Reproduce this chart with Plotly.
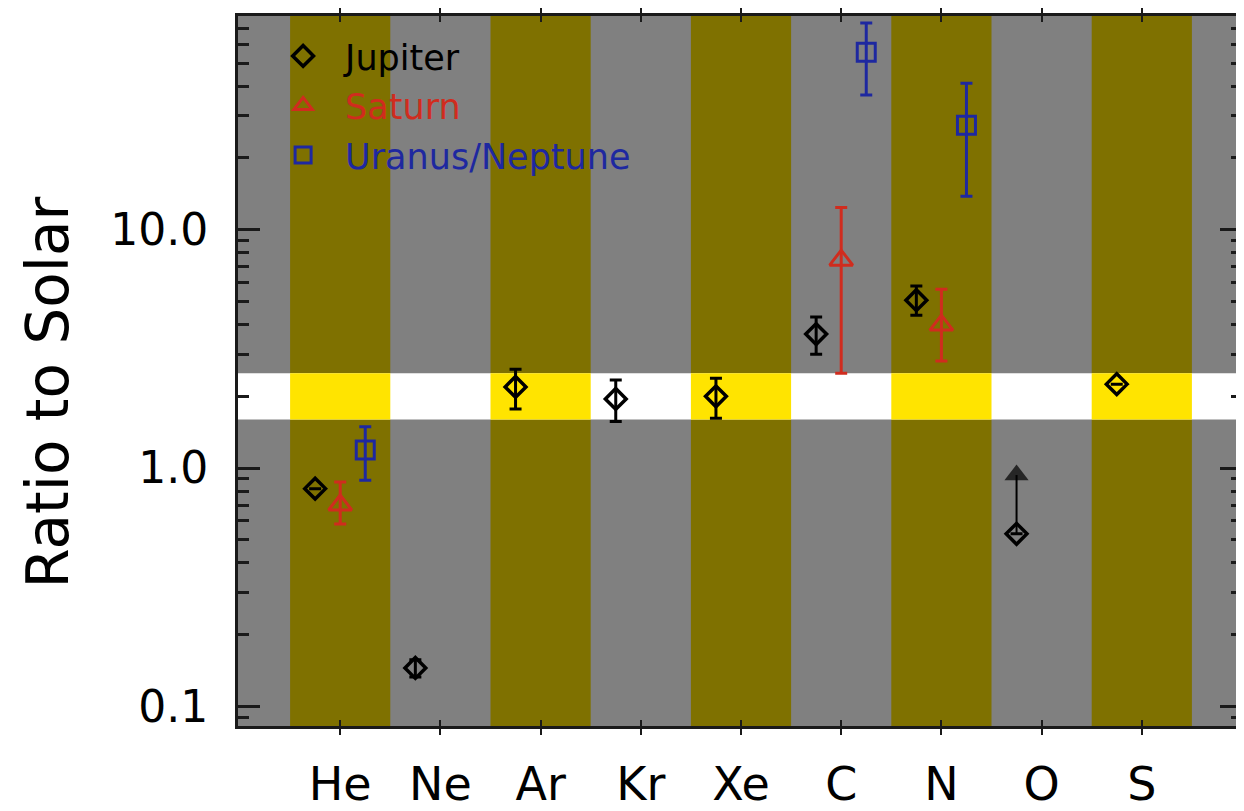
import math
import plotly.graph_objects as go

# ---------------- data ----------------
elements = ["He", "Ne", "Ar", "Kr", "Xe", "C", "N", "O", "S"]

jupiter_val = [0.82, 0.145, 2.19, 1.95, 2.00, 3.65, 5.06, 0.53, 2.25]
jupiter_hi = [None, 0.157, 2.60, 2.34, 2.38, 4.30, 5.81, None, None]
jupiter_lo = [None, 0.133, 1.77, 1.57, 1.62, 3.00, 4.38, None, None]

# Jupiter oxygen: lower limit arrow
jupiter_O_limit = 0.935

saturn_el = ["He", "C", "N"]
saturn_val = [0.70, 7.45, 3.98]
saturn_hi = [0.874, 12.4, 5.63]
saturn_lo = [0.582, 2.50, 2.81]

uranus_el = ["He", "C", "N"]
uranus_val = [1.19, 55.5, 27.4]
uranus_hi = [1.49, 73.7, 41.2]
uranus_lo = [0.89, 36.7, 13.8]

solar_band = [1.6, 2.5]   # highlighted horizontal band
y_range_vals = [0.0828, 78.8]

# ---------------- styling ----------------
FONT = "DejaVu Sans"
C_JUP = "#000000"
C_SAT = "#d02c1e"
C_URA = "#1e28a0"
GRAY = "#808080"
OLIVE = "#7f7100"
YELLOW = "#ffe400"
AXC = "#1a1a1a"

idx = {e: i for i, e in enumerate(elements)}
OFF_J, OFF_S, OFF_U = -0.25, 0.0, 0.25


def errs(val, hi, lo):
    plus = [None if h is None else h - v for v, h in zip(val, hi)]
    minus = [None if l is None else v - l for v, l in zip(val, lo)]
    return plus, minus


fig = go.Figure()

# Jupiter O lower-limit arrow
o_x = idx["O"] + OFF_J
o_v = jupiter_val[idx["O"]]
fig.add_trace(go.Scatter(
    x=[o_x, o_x], y=[o_v, jupiter_O_limit], mode="lines+markers",
    line=dict(color=C_JUP, width=2),
    marker=dict(symbol=["circle", "triangle-up"], size=[0, 21], color=C_JUP,
                line=dict(width=0)),
    showlegend=False, hoverinfo="skip"))

jp, jm = errs(jupiter_val, jupiter_hi, jupiter_lo)
fig.add_trace(go.Scatter(
    x=[i + OFF_J for i in range(len(elements))], y=jupiter_val,
    mode="markers", name="Jupiter", legendgroup="j",
    marker=dict(symbol="diamond-open", size=16, color=C_JUP, line=dict(width=3.5, color=C_JUP)),
    error_y=dict(type="data", symmetric=False, array=jp, arrayminus=jm,
                 color=C_JUP, thickness=3, width=6)))

sp, sm = errs(saturn_val, saturn_hi, saturn_lo)
fig.add_trace(go.Scatter(
    x=[idx[e] + OFF_S for e in saturn_el], y=saturn_val,
    mode="markers", name="<span style='color:%s'>Saturn</span>" % C_SAT, legendgroup="s",
    marker=dict(symbol="triangle-up-open", size=20, color=C_SAT, line=dict(width=3, color=C_SAT)),
    error_y=dict(type="data", symmetric=False, array=sp, arrayminus=sm,
                 color=C_SAT, thickness=3, width=6)))

up, um = errs(uranus_val, uranus_hi, uranus_lo)
fig.add_trace(go.Scatter(
    x=[idx[e] + OFF_U for e in uranus_el], y=uranus_val,
    mode="markers", name="<span style='color:%s'>Uranus/Neptune</span>" % C_URA, legendgroup="u",
    marker=dict(symbol="square-open", size=18, color=C_URA, line=dict(width=3, color=C_URA)),
    error_y=dict(type="data", symmetric=False, array=up, arrayminus=um,
                 color=C_URA, thickness=3, width=6)))

# dummy trace to activate the mirrored right axis
fig.add_trace(go.Scatter(x=[None], y=[None], yaxis="y2", showlegend=False, hoverinfo="skip"))

# background bands
shapes = []
for i in range(0, len(elements), 2):
    shapes.append(dict(type="rect", xref="x", yref="paper", x0=i - 0.5, x1=i + 0.5, y0=0, y1=1,
                       fillcolor=OLIVE, line=dict(width=0), layer="below"))
shapes.append(dict(type="rect", xref="paper", yref="y", x0=0, x1=1,
                   y0=solar_band[0], y1=solar_band[1],
                   fillcolor="#ffffff", line=dict(width=0), layer="below"))
for i in range(0, len(elements), 2):
    shapes.append(dict(type="rect", xref="x", yref="y", x0=i - 0.5, x1=i + 0.5,
                       y0=solar_band[0], y1=solar_band[1],
                       fillcolor=YELLOW, line=dict(width=0), layer="below"))

minor_vals = [m * 10 ** d for d in (-2, -1, 0, 1) for m in range(2, 10)]
yr = [math.log10(y_range_vals[0]), math.log10(y_range_vals[1])]

common_y = dict(type="log", range=yr, tickmode="array", tickvals=[0.1, 1, 10],
                ticks="inside", ticklen=22, tickwidth=2.5, tickcolor=AXC,
                minor=dict(tickmode="array", tickvals=minor_vals, ticks="inside",
                           ticklen=11, tickwidth=2.5, tickcolor=AXC, showgrid=False),
                showgrid=False, zeroline=False, automargin=False)

# page body has an 8px margin; the figure is sized to fit the 1244x811 window
fig.update_layout(
    width=1236, height=803,
    margin=dict(l=230, r=2, t=8, b=85),
    paper_bgcolor="white", plot_bgcolor=GRAY,
    shapes=shapes,
    font=dict(family=FONT, color="black"),
    showlegend=True,
    legend=dict(x=0.023, y=0.985, xanchor="left", yanchor="top",
                bgcolor="rgba(0,0,0,0)", borderwidth=0,
                font=dict(size=35, family=FONT, color="black"),
                itemwidth=74, tracegroupgap=1, traceorder="grouped"),
    xaxis=dict(range=[-1.02, 9.0], tickmode="array", tickvals=list(range(len(elements))),
               ticktext=elements, ticks="inside", ticklen=6, tickwidth=2, tickcolor=AXC,
               showline=True, linecolor=AXC, linewidth=3, mirror="allticks",
               showgrid=False, zeroline=False, automargin=False,
               tickfont=dict(size=46, family=FONT, color="black"), ticklabelstandoff=16),
    yaxis=dict(**common_y, ticktext=["0.1", "1.0", "10.0"],
               showline=True, linecolor=AXC, linewidth=3, mirror=True,
               tickfont=dict(size=44, family=FONT, color="black"), ticklabelstandoff=18),
    yaxis2=dict(**common_y, overlaying="y", side="right", showticklabels=False,
                showline=False),
    annotations=[dict(text="Ratio to Solar", textangle=-90, xref="paper", yref="paper",
                      x=-0.189, y=0.47, xanchor="center", yanchor="middle", showarrow=False,
                      font=dict(size=58, family=FONT, color="black"))],
)

fig.write_html("out.html")
